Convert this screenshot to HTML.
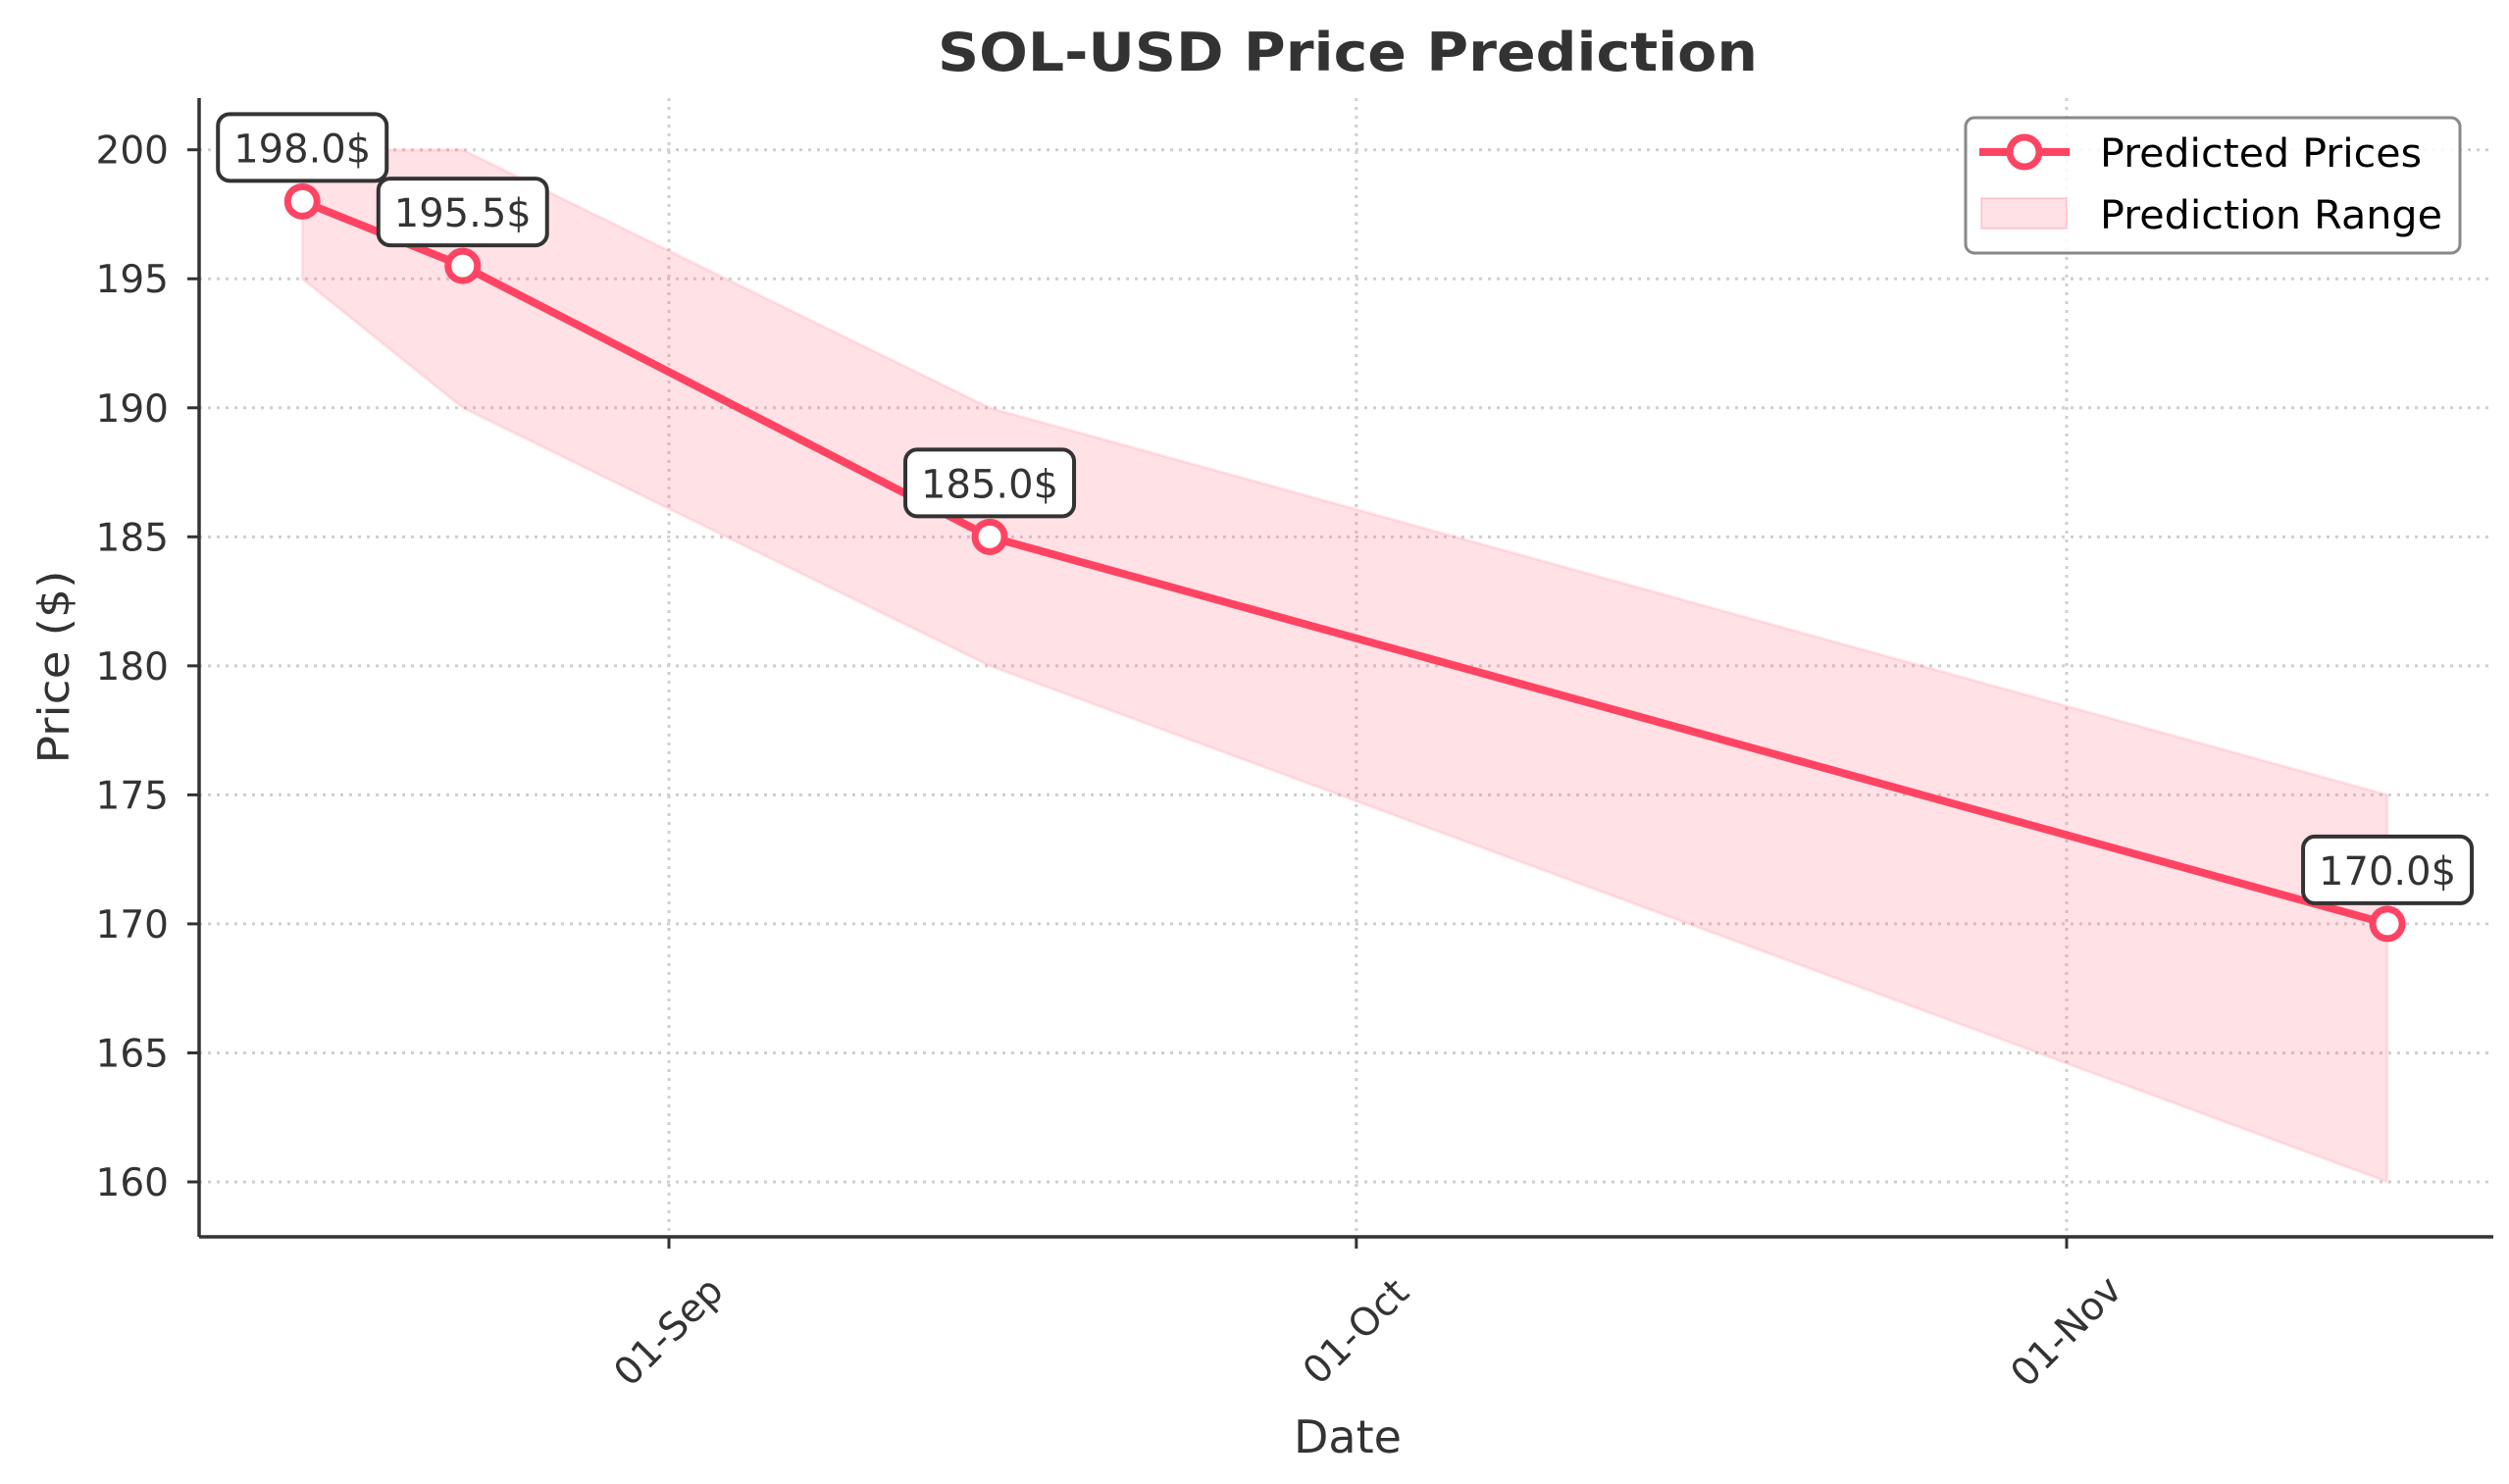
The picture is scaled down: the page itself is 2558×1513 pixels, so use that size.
<!DOCTYPE html>
<html><head><meta charset="utf-8"><style>
html,body{margin:0;padding:0;background:#fff}
svg{display:block;font-family:"DejaVu Sans","Liberation Sans",sans-serif}
</style></head><body>
<svg id="chart" width="2558" height="1513" viewBox="0 0 2558 1513" xmlns="http://www.w3.org/2000/svg">
<rect x="0" y="0" width="2558" height="1513" fill="#fff"/>
<text x="1374" y="72" text-anchor="middle" font-size="54" font-weight="bold" fill="#333" textLength="836" lengthAdjust="spacingAndGlyphs">SOL-USD Price Prediction</text>
<g id="grid"></g>
<g id="band"></g>
<g id="line"></g>
<g id="axes"></g>
<g id="ann"></g>
<text x="1374" y="1481" text-anchor="middle" font-size="46" fill="#333">Date</text>
<text transform="translate(70,680) rotate(-90)" text-anchor="middle" font-size="44" fill="#333" textLength="197" lengthAdjust="spacingAndGlyphs">Price ($)</text>
<g>
<rect x="2004" y="120" width="504" height="138" rx="9" fill="#fff" fill-opacity="0.85" stroke="#888" stroke-width="3"/>
<line x1="2018" y1="155" x2="2110" y2="155" stroke="#ff4463" stroke-width="8"/>
<circle cx="2064" cy="155" r="15" fill="#fff" stroke="#ff4463" stroke-width="7"/>
<text x="2141" y="170" font-size="40" fill="#000" textLength="328" lengthAdjust="spacingAndGlyphs">Predicted Prices</text>
<rect x="2020" y="202" width="87" height="31" fill="rgba(255,105,130,0.2)" stroke="rgba(255,105,130,0.25)" stroke-width="2"/>
<text x="2141" y="233" font-size="40" fill="#000" textLength="349" lengthAdjust="spacingAndGlyphs">Prediction Range</text>
</g>
</svg>
<script>
// data (days relative to 01-Sep)
const dayOffsets = [-16, -9, 14, 75];
const predicted = [198.0, 195.5, 185.0, 170.0];
const lowerBound = [195, 190, 180, 160];
const upperBound = [200, 200, 190, 175];
const yTicks = [160, 165, 170, 175, 180, 185, 190, 195, 200];
const xTickDays = [0, 30, 61];
const xTickLabels = ["01-Sep", "01-Oct", "01-Nov"];

const NS = "http://www.w3.org/2000/svg";
const L = 203, R = 2542, T = 100, B = 1261;
function xs(d){ return 682 + (d) * (2107 - 682) / 61; }
function ys(v){ return 152.7 + (200 - v) * (1205 - 152.7) / 40; }
function mk(tag, attrs, parent){ const e = document.createElementNS(NS, tag); for (const k in attrs) e.setAttribute(k, attrs[k]); parent.appendChild(e); return e; }

const grid = document.getElementById('grid');
yTicks.forEach(v => {
  const g = mk('line', {x1:L, x2:R, y1:ys(v), y2:ys(v), stroke:'#cfcfcf', 'stroke-width':3, 'stroke-dasharray':'3 6'}, grid);
  
  
});
xTickDays.forEach(d => {
  const g = mk('line', {x1:xs(d), x2:xs(d), y1:T, y2:B, stroke:'#cfcfcf', 'stroke-width':3, 'stroke-dasharray':'3 6'}, grid);
  
  
});

const band = document.getElementById('band');
let pts = [];
dayOffsets.forEach((d,i) => pts.push(xs(d) + ',' + ys(upperBound[i])));
for (let i = dayOffsets.length - 1; i >= 0; i--) pts.push(xs(dayOffsets[i]) + ',' + ys(lowerBound[i]));
const poly = mk('polygon', {points: pts.join(' '), fill:'rgba(255,105,130,0.2)', stroke:'rgba(255,105,130,0.15)', 'stroke-width':3}, band);



const lineG = document.getElementById('line');
const pl = mk('polyline', {points: dayOffsets.map((d,i) => xs(d) + ',' + ys(predicted[i])).join(' '), fill:'none', stroke:'#ff4463', 'stroke-width':8, 'stroke-linejoin':'round'}, lineG);


dayOffsets.forEach((d,i) => {
  const c = mk('circle', {cx:xs(d), cy:ys(predicted[i]), r:15, fill:'#fff', stroke:'#ff4463', 'stroke-width':7}, lineG);
  
  
});

const axes = document.getElementById('axes');
const ax1 = mk('line', {x1:L, x2:L, y1:T, y2:B, stroke:'#333', 'stroke-width':3.5}, axes);


const ax2 = mk('line', {x1:L, x2:R, y1:B, y2:B, stroke:'#333', 'stroke-width':3.5}, axes);


yTicks.forEach(v => {
  const t = mk('line', {x1:L-12, x2:L, y1:ys(v), y2:ys(v), stroke:'#333', 'stroke-width':3}, axes);
  
  
  const tx = mk('text', {x:172, y:ys(v)+14, 'text-anchor':'end', 'font-size':39, fill:'#333'}, axes);
  tx.textContent = String(v);
  
  
});
xTickDays.forEach((d,i) => {
  const t = mk('line', {x1:xs(d), x2:xs(d), y1:B, y2:B+12, stroke:'#333', 'stroke-width':3}, axes);
  
  
  const tx = mk('text', {transform:'translate(' + xs(d) + ',1358) rotate(-45)', 'text-anchor':'middle', 'dominant-baseline':'central', 'font-size':39, fill:'#333'}, axes);
  tx.textContent = xTickLabels[i];
  
  
});

const ann = document.getElementById('ann');
dayOffsets.forEach((d,i) => {
  const cx = xs(d), cy = ys(predicted[i]) - 55;
  const r = mk('rect', {x:cx-86, y:cy-34, width:172, height:68, rx:12, fill:'#fff', stroke:'#333', 'stroke-width':4}, ann);
  
  
  const tx = mk('text', {x:cx, y:cy+15, 'text-anchor':'middle', 'font-size':40, fill:'#333', textLength:140, lengthAdjust:'spacingAndGlyphs'}, ann);
  tx.textContent = predicted[i].toFixed(1) + '$';
  
  
});
</script>
</body></html>
